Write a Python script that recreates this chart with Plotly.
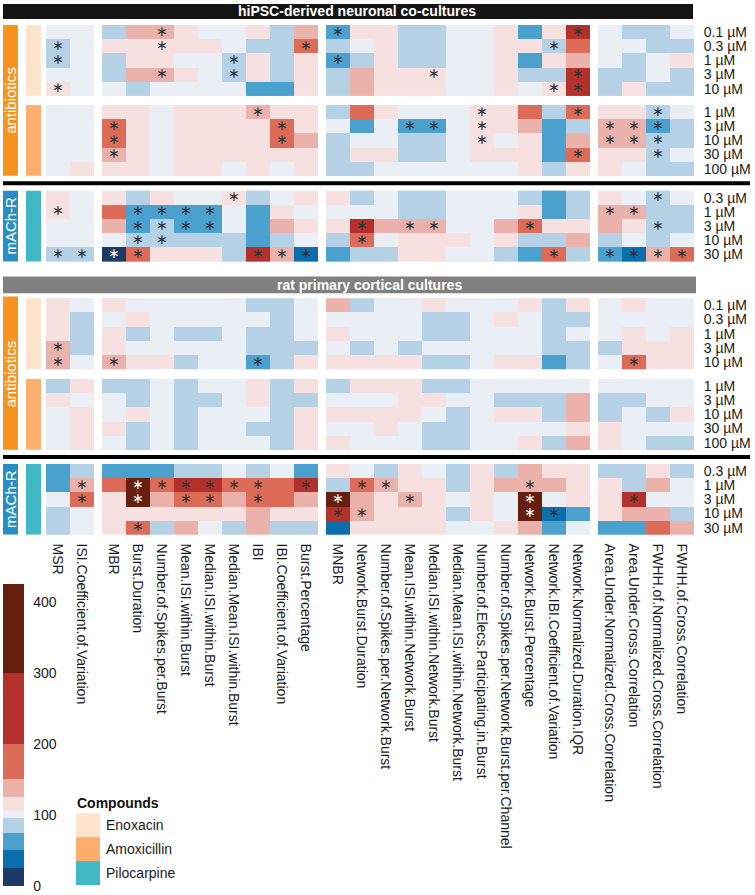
import plotly.graph_objects as go

# ---- data (percent of baseline) ----
metrics = ["MSR", "ISI.Coefficient.of.Variation",
           "MBR", "Burst.Duration", "Number.of.Spikes.per.Burst", "Mean.ISI.within.Burst",
           "Median.ISI.within.Burst", "Median.Mean.ISI.within.Burst", "IBI",
           "IBI.Coefficient.of.Variation", "Burst.Percentage",
           "MNBR", "Network.Burst.Duration", "Number.of.Spikes.per.Network.Burst",
           "Mean.ISI.within.Network.Burst", "Median.ISI.within.Network.Burst",
           "Median.Mean.ISI.within.Network.Burst", "Number.of.Elecs.Participating.in.Burst",
           "Number.of.Spikes.per.Network.Burst.per.Channel", "Network.Burst.Percentage",
           "Network.IBI.Coefficient.of.Variation", "Network.Normalized.Duration.IQR",
           "Area.Under.Normalized.Cross.Correlation", "Area.Under.Cross.Correlation",
           "FWHH.of.Normalized.Cross.Correlation", "FWHH.of.Cross.Correlation"]
metric_groups = [2, 9, 11, 4]

enox_conc = ["0.1 µM", "0.3 µM", "1 µM", "3 µM", "10 µM"]
amox_conc = ["1 µM", "3 µM", "10 µM", "30 µM", "100 µM"]
pilo_conc = ["0.3 µM", "1 µM", "3 µM", "10 µM", "30 µM"]

ipsc_enox = [
    [100, 100, 88, 138, 138, 115, 100, 100, 115, 88, 138, 65, 115, 115, 88, 88, 100, 100, 115, 65, 115, 250, 100, 88, 88, 100],
    [88, 100, 115, 115, 115, 115, 115, 100, 88, 88, 175, 88, 100, 115, 88, 88, 100, 100, 115, 115, 88, 175, 100, 100, 88, 88],
    [88, 100, 88, 115, 115, 100, 100, 88, 115, 88, 115, 65, 88, 115, 88, 88, 100, 100, 115, 65, 115, 138, 100, 88, 100, 115],
    [100, 100, 88, 138, 138, 115, 100, 88, 115, 88, 115, 88, 138, 115, 115, 115, 100, 100, 115, 88, 88, 250, 88, 88, 100, 88],
    [115, 100, 100, 88, 100, 100, 100, 100, 65, 65, 115, 88, 138, 115, 115, 115, 100, 100, 115, 100, 115, 250, 88, 115, 88, 88],
]
ipsc_enox_sig = [[4, 11, 21], [0, 4, 10, 20], [0, 7, 11], [4, 7, 15, 21], [0, 20, 21]]

ipsc_amox = [
    [100, 100, 115, 115, 100, 115, 115, 115, 138, 115, 115, 88, 175, 115, 100, 100, 100, 115, 115, 175, 88, 175, 115, 115, 88, 100],
    [100, 100, 175, 115, 100, 115, 115, 115, 115, 175, 115, 100, 65, 100, 65, 65, 100, 115, 115, 138, 65, 88, 138, 138, 65, 88],
    [100, 100, 175, 115, 100, 115, 115, 115, 115, 175, 138, 88, 100, 100, 88, 88, 100, 115, 100, 115, 65, 138, 138, 138, 88, 88],
    [100, 100, 138, 115, 100, 115, 115, 115, 115, 115, 115, 88, 115, 115, 88, 88, 100, 115, 115, 115, 65, 175, 115, 115, 88, 100],
    [100, 115, 115, 115, 100, 115, 115, 100, 115, 100, 115, 88, 88, 100, 100, 100, 100, 100, 100, 115, 88, 115, 115, 100, 88, 88],
]
ipsc_amox_sig = [[8, 17, 21, 24], [2, 9, 14, 15, 17, 22, 23, 24], [2, 9, 17, 22, 23, 24], [2, 21, 24], []]

ipsc_pilo = [
    [115, 100, 115, 88, 115, 100, 100, 115, 88, 100, 115, 115, 88, 100, 88, 88, 100, 100, 100, 88, 65, 88, 115, 100, 88, 100],
    [115, 100, 175, 65, 65, 65, 65, 100, 65, 115, 100, 100, 100, 100, 88, 88, 100, 100, 100, 115, 65, 88, 138, 138, 88, 88],
    [100, 100, 138, 65, 88, 65, 65, 100, 65, 138, 115, 115, 250, 138, 138, 138, 100, 100, 138, 175, 115, 115, 138, 115, 88, 88],
    [100, 100, 100, 88, 88, 88, 88, 88, 65, 88, 100, 88, 175, 100, 115, 115, 115, 100, 115, 88, 88, 138, 88, 100, 88, 100],
    [88, 88, 15, 175, 115, 115, 115, 88, 250, 138, 40, 65, 88, 88, 115, 115, 100, 100, 88, 65, 175, 88, 65, 40, 138, 175],
]
ipsc_pilo_sig = [[7, 24], [0, 3, 4, 5, 6, 22, 23], [3, 4, 5, 6, 12, 14, 15, 19, 24], [3, 4, 12],
                 [0, 1, 2, 3, 8, 9, 10, 20, 22, 23, 24, 25]]

rat_enox = [
    [115, 100, 115, 100, 100, 100, 100, 100, 88, 88, 100, 138, 88, 100, 100, 115, 100, 100, 100, 115, 88, 115, 100, 115, 100, 100],
    [115, 88, 100, 115, 100, 100, 100, 100, 100, 88, 100, 100, 100, 100, 100, 88, 88, 100, 115, 100, 88, 88, 100, 100, 100, 100],
    [115, 88, 115, 88, 100, 88, 88, 100, 88, 88, 100, 115, 100, 100, 100, 88, 88, 100, 100, 100, 88, 100, 100, 115, 100, 115],
    [138, 88, 115, 100, 100, 100, 100, 100, 88, 88, 88, 100, 88, 100, 88, 100, 100, 100, 100, 100, 88, 88, 88, 115, 115, 115],
    [138, 100, 138, 115, 115, 88, 100, 100, 65, 88, 115, 115, 115, 115, 115, 88, 88, 100, 115, 115, 65, 88, 100, 175, 115, 115],
]
rat_enox_sig = [[], [], [], [0], [0, 2, 8, 23]]

rat_amox = [
    [88, 115, 88, 88, 100, 88, 100, 100, 115, 88, 115, 88, 115, 115, 115, 88, 88, 100, 100, 100, 100, 100, 100, 100, 100, 100],
    [115, 100, 100, 88, 100, 88, 88, 100, 115, 88, 88, 100, 100, 100, 115, 115, 100, 100, 88, 88, 88, 138, 88, 88, 100, 100],
    [100, 115, 100, 115, 100, 88, 100, 100, 100, 88, 115, 115, 115, 115, 115, 100, 88, 100, 115, 115, 88, 138, 88, 100, 88, 115],
    [100, 115, 115, 88, 100, 88, 100, 100, 88, 88, 115, 100, 100, 115, 100, 88, 88, 100, 100, 100, 100, 115, 115, 100, 100, 100],
    [100, 115, 100, 88, 100, 88, 100, 100, 100, 88, 115, 115, 100, 100, 100, 88, 88, 100, 100, 115, 88, 138, 115, 100, 88, 88],
]
rat_amox_sig = [[], [], [], [], []]

rat_pilo = [
    [65, 88, 65, 65, 65, 88, 88, 100, 88, 100, 65, 115, 100, 88, 115, 100, 88, 115, 88, 138, 115, 115, 88, 88, 115, 88],
    [65, 138, 175, 360, 175, 250, 250, 175, 175, 175, 250, 88, 175, 138, 115, 115, 88, 115, 138, 138, 138, 115, 115, 88, 138, 100],
    [100, 175, 115, 360, 138, 175, 175, 138, 175, 175, 138, 360, 138, 115, 138, 115, 100, 115, 100, 360, 100, 115, 115, 250, 100, 100],
    [88, 100, 115, 115, 115, 115, 115, 115, 138, 115, 115, 250, 138, 115, 115, 115, 88, 115, 100, 360, 40, 65, 115, 138, 138, 88],
    [88, 100, 115, 175, 88, 138, 100, 88, 138, 88, 88, 40, 115, 115, 115, 115, 100, 100, 115, 138, 65, 100, 65, 65, 175, 138],
]
rat_pilo_sig = [[], [1, 3, 4, 5, 6, 7, 8, 10, 12, 13, 19], [1, 3, 5, 6, 8, 11, 14, 19, 23], [11, 12, 19, 20], [3]]

bin_edges = [0, 25, 50, 75, 95, 105, 125, 150, 200, 300, 425]
bin_colors = ["#1c3a66", "#0b6fae", "#4ba1ce", "#b4d1e6", "#e9eff4",
              "#f6e1e0", "#ebb1ab", "#dc6b58", "#b3312a", "#651f0f"]

# ---- layout helpers (pixels -> paper) ----
W, H = 755, 895
def px(x):
    return x / W
def py(y):
    return 1 - y / H

GAP = 1 / 3
col_x = []
pos = 0
for gi, n in enumerate(metric_groups):
    for k in range(n):
        col_x.append(pos + gi * GAP)
        pos += 1

blocks = [
    (ipsc_enox, ipsc_enox_sig, enox_conc),
    (ipsc_amox, ipsc_amox_sig, amox_conc),
    (ipsc_pilo, ipsc_pilo_sig, pilo_conc),
    (rat_enox, rat_enox_sig, enox_conc),
    (rat_amox, rat_amox_sig, amox_conc),
    (rat_pilo, rat_pilo_sig, pilo_conc),
]
block_gaps = [0.65, 1.05, 2.6, 0.7, 1.0]
block_y0 = []
cur = 0
for bi in range(len(blocks)):
    block_y0.append(cur)
    cur += 5 + (block_gaps[bi] if bi < len(block_gaps) else 0)
y_max = cur - 0.5

scale = []
for i, c in enumerate(bin_colors):
    scale.append([bin_edges[i] / bin_edges[-1], c])
    scale.append([bin_edges[i + 1] / bin_edges[-1], c])

fig = go.Figure()
ytick_vals, ytick_text = [], []
for bi, (vals, sig, conc) in enumerate(blocks):
    ys = [block_y0[bi] + r for r in range(5)]
    ytick_vals += ys
    ytick_text += conc
    start = 0
    for n in metric_groups:
        fig.add_trace(go.Heatmap(
            z=[row[start:start + n] for row in vals],
            x=col_x[start:start + n], y=ys,
            coloraxis="coloraxis", hoverinfo="skip"))
        start += n
    sx, sy, sc = [], [], []
    for r, cols in enumerate(sig):
        for c in cols:
            sx.append(col_x[c])
            sy.append(ys[r])
            v = vals[r][c]
            sc.append("white" if (v >= 300 or v <= 25) else "#333333")
    if sx:
        fig.add_trace(go.Scatter(x=sx, y=sy, mode="text", text=["∗"] * len(sx),
                                 textposition="middle center",
                                 textfont=dict(family="DejaVu Sans", size=14, color=sc),
                                 showlegend=False, hoverinfo="skip"))

shapes = []
annotations = []

def note(x, y, text, size, color, xref="paper", yref="paper", xanchor="center", angle=0):
    annotations.append(dict(x=x, y=y, xref=xref, yref=yref, text=text, showarrow=False,
                            xanchor=xanchor, yanchor="middle", textangle=angle,
                            font=dict(size=size, color=color)))

# section title bars
for (y0, y1, x1, col, txt, tx) in [(3, 18, 693, "#141414", "hiPSC-derived neuronal co-cultures", 357),
                                   (276, 293, 696, "#808080", "rat primary cortical cultures", 369)]:
    shapes.append(dict(type="rect", xref="paper", yref="paper", x0=px(3), x1=px(x1),
                       y0=py(y1), y1=py(y0), fillcolor=col, line_width=0))
    note(px(tx), py((y0 + y1) / 2), "<b>%s</b>" % txt, 14, "white")

# compound colour strips and class boxes
comp_colors = ["#fde4cb", "#fcae6d", "#40b8c5"]
for bi in range(len(blocks)):
    shapes.append(dict(type="rect", xref="paper", yref="y", x0=px(26), x1=px(41),
                       y0=block_y0[bi] - 0.5, y1=block_y0[bi] + 4.5,
                       fillcolor=comp_colors[bi % 3], line_width=0))
for sec in [0, 3]:
    shapes.append(dict(type="rect", xref="paper", yref="y", x0=px(3), x1=px(18),
                       y0=block_y0[sec] - 0.62, y1=block_y0[sec + 1] + 4.5,
                       fillcolor="#f7941e", line_width=0))
    note(px(10.5), (block_y0[sec] + block_y0[sec + 1] + 4) / 2, "antibiotics", 15, "white",
         yref="y", angle=-90)
    shapes.append(dict(type="rect", xref="paper", yref="y", x0=px(3), x1=px(18),
                       y0=block_y0[sec + 2] - 0.5, y1=block_y0[sec + 2] + 4.5,
                       fillcolor="#2a8ec6", line_width=0))
    note(px(10.5), block_y0[sec + 2] + 2, "mACh-R", 15, "white", yref="y", angle=-90)
    ysep = (block_y0[sec + 1] + 4.5 + block_y0[sec + 2] - 0.5) / 2
    shapes.append(dict(type="line", xref="paper", yref="y", x0=px(3), x1=px(750),
                       y0=ysep, y1=ysep, line=dict(color="black", width=4)))

# compound legend
note(px(75), py(804), "<b>Compounds</b>", 14, "#111111", xanchor="left")
for i, name in enumerate(["Enoxacin", "Amoxicillin", "Pilocarpine"]):
    y0 = 814 + 24 * i
    shapes.append(dict(type="rect", xref="paper", yref="paper", x0=px(76), x1=px(100),
                       y0=py(y0 + 24), y1=py(y0), fillcolor=comp_colors[i], line_width=0))
    note(px(104), py(y0 + 12), name, 14, "#1a1a1a", xanchor="left")

fig.update_layout(
    width=W, height=H, margin=dict(l=0, r=0, t=0, b=0),
    paper_bgcolor="white", plot_bgcolor="white",
    font=dict(family="Liberation Sans, Arial, sans-serif", color="#1a1a1a"),
    showlegend=False, shapes=shapes, annotations=annotations,
    coloraxis=dict(colorscale=scale, cmin=0, cmax=bin_edges[-1],
                   colorbar=dict(x=px(3), xanchor="left", y=py(887), yanchor="bottom",
                                 len=302, lenmode="pixels", thickness=21,
                                 outlinewidth=0, xpad=0, ypad=0,
                                 tickvals=[0, 100, 200, 300, 400], ticks="outside",
                                 ticklen=7, tickcolor="rgba(0,0,0,0)",
                                 tickfont=dict(size=14, color="#1a1a1a"))),
    xaxis=dict(domain=[px(46), px(694)], range=[-0.5, col_x[-1] + 0.5],
               tickvals=col_x, ticktext=metrics, tickangle=90, showgrid=False,
               zeroline=False, showline=False, ticks="outside", ticklen=5,
               tickcolor="rgba(0,0,0,0)", tickfont=dict(size=14, color="#1a1a1a")),
    yaxis=dict(domain=[py(535), py(24)], range=[y_max, -0.5], side="right",
               tickvals=ytick_vals, ticktext=ytick_text, showgrid=False,
               zeroline=False, showline=False, ticks="outside", ticklen=6,
               tickcolor="rgba(0,0,0,0)", tickfont=dict(size=14, color="#1a1a1a")),
)

fig.write_html("out.html", config={"displayModeBar": False},
               post_script="document.body.style.margin='0px';")
